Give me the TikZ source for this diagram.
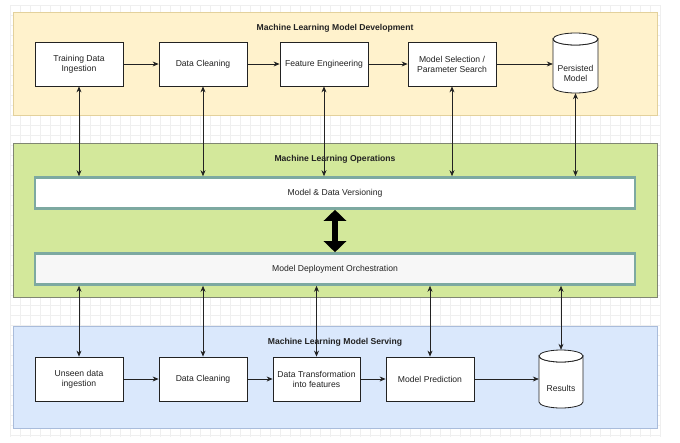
\documentclass[tikz,border=0pt]{standalone}
\usepackage{fontspec}
\setmainfont{Liberation Sans}
\usetikzlibrary{arrows.meta}
\definecolor{devfill}{HTML}{FFF2CC}
\definecolor{devdraw}{HTML}{E3D19C}
\definecolor{opsfill}{HTML}{D3E89B}
\definecolor{opsdraw}{HTML}{808672}
\definecolor{srvfill}{HTML}{DAE8FC}
\definecolor{srvdraw}{HTML}{A9BCDB}
\definecolor{barteal}{HTML}{7DA9A1}
\definecolor{gridline}{HTML}{EFEFEF}
\definecolor{inkc}{HTML}{222222}
\begin{document}
\begin{tikzpicture}[x=1pt,y=-1pt,
  font=\fontsize{8.6}{10}\selectfont, text=inkc,
  box/.style={draw=inkc, fill=white, line width=0.8pt, minimum width=88pt,
    minimum height=44pt, align=center, inner sep=1pt},
  cylbox/.style={inner sep=0pt, minimum width=45pt, minimum height=60pt},
  cyldraw/.style={draw=inkc, fill=white, line width=0.8pt},
  bar/.style={draw=barteal, line width=2.6pt, fill=white, minimum width=600pt,
    minimum height=31pt, inner sep=0pt},
  title/.style={font=\fontsize{8.6}{10}\selectfont\bfseries},
  flow/.style={-{Stealth[length=6pt,width=5pt]}, line width=0.7pt, draw=inkc},
  link/.style={{Stealth[length=6pt,width=5pt]}-{Stealth[length=6pt,width=5pt]},
    line width=0.7pt, draw=inkc},
  bigarrow/.style={{Triangle[length=11pt,width=22pt]}-{Triangle[length=11pt,width=22pt]},
    line width=6pt, draw=black}]
\useasboundingbox (0,0) rectangle (680,442);
\fill[white] (0,0) rectangle (680,442);
% faint background grid
\foreach \gx in {10,20,...,660} \draw[gridline, line width=0.3pt] (\gx,5) -- (\gx,437);
\foreach \gy in {5,15,...,435} \draw[gridline, line width=0.3pt] (10,\gy) -- (660,\gy);

% panels
\path[draw=devdraw, fill=devfill, line width=0.8pt] (13,12) rectangle (657,115);
\path[draw=opsdraw, fill=opsfill, line width=0.8pt] (13,143) rectangle (657,297);
\path[draw=srvdraw, fill=srvfill, line width=0.8pt] (13,326) rectangle (657,428);

\node[title] (tdev) at (335,28) {Machine Learning Model Development};
\node[title] (tops) at (335,159) {Machine Learning Operations};
\node[title] (tsrv) at (335,342) {Machine Learning Model Serving};

% development row
\node[box] (tdi) at (79,64) {Training Data\\Ingestion};
\node[box] (dc1) at (203,64) {Data Cleaning};
\node[box] (fe) at (324,64) {Feature Engineering};
\node[box] (ms) at (452,64) {Model Selection /\\Parameter Search};
\path[cyldraw] (553,39) -- (553,87) arc[start angle=180,end angle=0,x radius=22.5,y radius=6]
  -- (598,39) arc[start angle=0,end angle=180,x radius=22.5,y radius=6] -- cycle;
\draw[cyldraw] (575.5,39) ellipse[x radius=22.5,y radius=6];
\node[cylbox] (pm) at (575.5,63) {};
\node[align=center, inner sep=0pt] (pmt) at (575.5,73) {Persisted\\Model};

% operations
\node[bar] (ver) at (335,193) {Model \& Data Versioning};
\node[bar, fill=black!3] (orch) at (335,269) {Model Deployment Orchestration};

% serving row
\node[box] (ui) at (79,379) {Unseen data\\ingestion};
\node[box] (dc2) at (203,379) {Data Cleaning};
\node[box, minimum width=87pt] (dt) at (316.5,379) {Data Transformation\\into features};
\node[box] (mp) at (430,379) {Model Prediction};
\path[cyldraw] (539,356) -- (539,402) arc[start angle=180,end angle=0,x radius=22,y radius=6]
  -- (583,356) arc[start angle=0,end angle=180,x radius=22,y radius=6] -- cycle;
\draw[cyldraw] (561,356) ellipse[x radius=22,y radius=6];
\node[cylbox, minimum width=44pt, minimum height=58pt] (res) at (561,379) {};
\node[inner sep=0pt] (rest) at (561,388) {Results};

% horizontal flows
\draw[flow] (tdi) -- (dc1);
\draw[flow] (dc1) -- (fe);
\draw[flow] (fe) -- (ms);
\draw[flow] (ms.east) -- (ms.east -| pm.west);
\draw[flow] (ui) -- (dc2);
\draw[flow] (dc2) -- (dt);
\draw[flow] (dt) -- (mp);
\draw[flow] (mp.east) -- (mp.east -| res.west);

% links to operations
\draw[link] (tdi.south) -- (tdi.south |- ver.north);
\draw[link] (dc1.south) -- (dc1.south |- ver.north);
\draw[link] (fe.south) -- (fe.south |- ver.north);
\draw[link] (ms.south) -- (ms.south |- ver.north);
\draw[link] (pm.south) -- (pm.south |- ver.north);
\draw[link] (orch.south -| ui.north) -- (ui.north);
\draw[link] (orch.south -| dc2.north) -- (dc2.north);
\draw[link] (orch.south -| dt.north) -- (dt.north);
\draw[link] (orch.south -| mp.north) -- (mp.north);
\draw[link] (orch.south -| res.north) -- (res.north);

% versioning <-> orchestration
\draw[bigarrow] (ver.south) -- (orch.north);
\end{tikzpicture}
\end{document}
